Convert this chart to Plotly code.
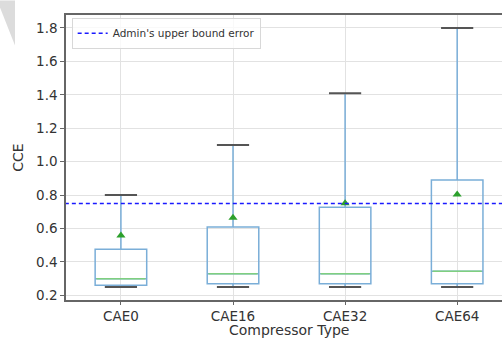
import plotly.graph_objects as go

categories = ["CAE0", "CAE16", "CAE32", "CAE64"]
lower_whisker = [0.25, 0.25, 0.25, 0.25]
q1_vals = [0.26, 0.27, 0.27, 0.27]
median_vals = [0.30, 0.33, 0.33, 0.345]
q3_vals = [0.476, 0.609, 0.728, 0.89]
upper_whisker = [0.80, 1.10, 1.41, 1.80]
mean_vals = [0.559, 0.664, 0.752, 0.803]
admin_bound = 0.75
y_ticks = [0.2, 0.4, 0.6, 0.8, 1.0, 1.2, 1.4, 1.6, 1.8]
x_title = "Compressor Type"
y_title = "CCE"

xpos = list(range(len(categories)))
BLUE = "#7aaed8"
GREEN_MED = "#7fcf7f"
GREEN_MEAN = "#2ca02c"
CAP = "#555555"

fig = go.Figure()
fig.add_trace(go.Box(
    x=xpos, q1=q1_vals, median=median_vals, q3=q3_vals,
    lowerfence=lower_whisker, upperfence=upper_whisker,
    width=0.46, whiskerwidth=0, fillcolor="rgba(0,0,0,0)",
    line=dict(color=BLUE, width=1.5), showlegend=False, hoverinfo="skip",
    boxpoints=False,
))
fig.add_trace(go.Scatter(
    x=xpos, y=median_vals, mode="markers", showlegend=False,
    marker=dict(symbol="line-ew", size=35, line=dict(color=GREEN_MED, width=1.5)),
))
fig.add_trace(go.Scatter(
    x=xpos + xpos, y=lower_whisker + upper_whisker, mode="markers", showlegend=False,
    marker=dict(symbol="line-ew", size=23, line=dict(color=CAP, width=2)),
))
fig.add_trace(go.Scatter(
    x=xpos, y=mean_vals, mode="markers", showlegend=False,
    marker=dict(symbol="triangle-up", size=8, color=GREEN_MEAN),
))
fig.add_trace(go.Scatter(
    x=[-1, 5], y=[admin_bound, admin_bound], mode="lines",
    name="Admin's upper bound error",
    line=dict(color="#1a1aff", width=1.5, dash="4px,3px"),
))

W, H = 502, 338
L, R, T, B = 66, 0, 14.5, 37.5
pw, ph = W - L - R, H - T - B

def px2paper(px, py):
    return (px - L) / pw, (H - B - py) / ph

pts = [px2paper(0, 0), px2paper(15, 0), px2paper(15, 45), px2paper(0, 7)]
path = "M " + " L ".join(f"{x},{y}" for x, y in pts) + " Z"
fig.add_shape(type="path", path=path, xref="paper", yref="paper",
              fillcolor="#dcdcdc", line=dict(width=0), layer="below")

tx, ty = px2paper(289, 330.5)
fig.add_annotation(text=x_title, xref="paper", yref="paper", x=tx, y=ty,
                   xanchor="center", yanchor="middle", showarrow=False,
                   font=dict(size=14, color="#333"))

fig.update_layout(
    width=W, height=H,
    margin=dict(l=L, r=R, t=T, b=B, pad=0, autoexpand=False),
    paper_bgcolor="white", plot_bgcolor="white",
    font=dict(family="DejaVu Sans", size=13.5, color="#333"),
    legend=dict(x=0.013, y=0.99, xanchor="left", yanchor="top",
                bgcolor="rgba(255,255,255,0.8)", bordercolor="#d8d8d8", borderwidth=1,
                font=dict(size=10.5, color="#333"), itemwidth=30,
                tracegroupgap=0),
    xaxis=dict(
        range=[-0.49, 3.40], tickvals=xpos, ticktext=categories,
        tickfont=dict(size=13.5),
        showgrid=True, gridcolor="#e2e2e2", gridwidth=1,
        showline=True, linecolor="#666", linewidth=1.5, mirror=True,
        ticks="outside", ticklen=3, tickcolor="#666",
        zeroline=False, automargin=False,
    ),
    yaxis=dict(
        range=[0.1725, 1.8775], tickvals=y_ticks, tickformat=".1f",
        tickfont=dict(size=13.5),
        showgrid=True, gridcolor="#e2e2e2", gridwidth=1,
        showline=True, linecolor="#666", linewidth=1.5,
        ticks="outside", ticklen=4, tickcolor="#666",
        title=dict(text=y_title, standoff=9, font=dict(size=14)),
        zeroline=False, automargin=False,
    ),
)

fig.write_html(
    "out.html",
    config={"displayModeBar": False},
    post_script="document.body.style.margin='0';document.body.style.overflow='hidden';",
)
